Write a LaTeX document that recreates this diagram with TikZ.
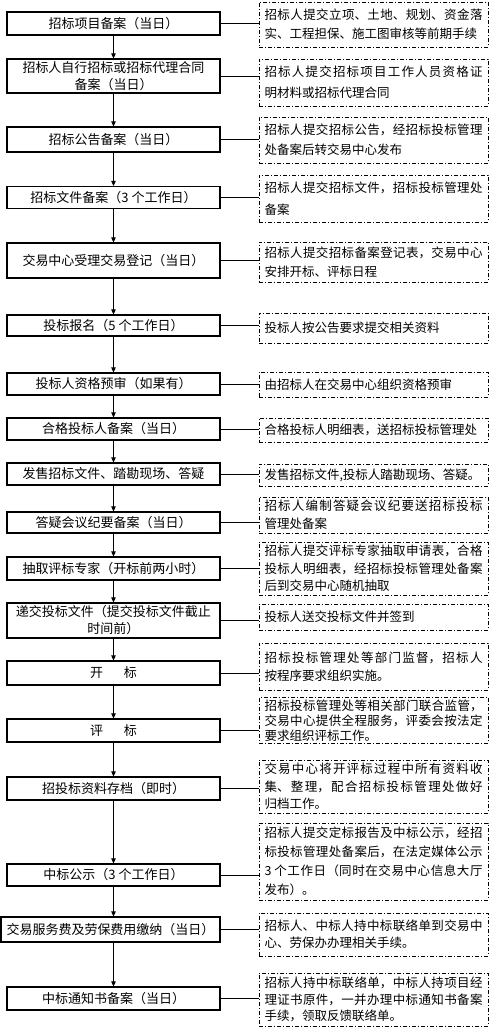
\documentclass[tikz,border=0pt]{standalone}
\usepackage{fontspec}
\usepackage{tikz}
\usetikzlibrary{arrows.meta}
\newfontfamily\cjk{Noto Sans CJK SC}
\XeTeXlinebreaklocale "zh"
\XeTeXlinebreakskip=0pt plus 8pt

\begin{document}
\begin{tikzpicture}[
    x=1pt, y=-1pt,
    stage/.style={draw, line width=1.1pt, minimum width=213pt, inner sep=2pt, align=center, font=\cjk\fontsize{13}{17}\selectfont},
    note/.style={draw, line width=0.8pt, dash pattern=on 4pt off 2pt on 1pt off 2pt, text width=218pt, inner xsep=5.5pt, inner ysep=2pt, align=justify, font=\cjk\fontsize{12.5}{#1}\selectfont},
    note/.default=17.5,
    link/.style={line width=0.8pt},
    flow/.style={line width=0.8pt, -{Triangle[length=5pt,width=4.5pt]}}
]
\useasboundingbox (0,0) rectangle (500,1028);

% process steps
\node[stage, minimum height=23pt] (l1) at (113.5,23.5) {招标项目备案（当日）};
\node[stage, minimum height=34pt] (l2) at (113.5,76) {招标人自行招标或招标代理合同\\备案（当日）};
\node[stage, minimum height=25pt] (l3) at (113.5,139.5) {招标公告备案（当日）};
\node[stage, minimum height=22pt] (l4) at (113.5,197.5) {招标文件备案（3 个工作日）};
\node[stage, minimum height=35pt] (l5) at (113.5,260.5) {交易中心受理交易登记（当日）};
\node[stage, minimum height=21pt] (l6) at (113.5,325.5) {投标报名（5 个工作日）};
\node[stage, minimum height=22pt] (l7) at (113.5,384) {投标人资格预审（如果有）};
\node[stage, minimum height=22pt] (l8) at (113.5,429) {合格投标人备案（当日）};
\node[stage, minimum height=22pt] (l9) at (113.5,474) {发售招标文件、踏勘现场、答疑};
\node[stage, minimum height=21pt] (l10) at (113.5,522.5) {答疑会议纪要备案（当日）};
\node[stage, minimum height=23pt] (l11) at (113.5,568.5) {抽取评标专家（开标前两小时）};
\node[stage, minimum height=35pt] (l12) at (113.5,620.5) {递交投标文件（提交投标文件截止\\时间前）};
\node[stage, minimum height=24pt] (l13) at (113.5,673) {开\hspace{21pt}标};
\node[stage, minimum height=23pt] (l14) at (113.5,730.5) {评\hspace{21pt}标};
\node[stage, minimum height=23pt] (l15) at (113.5,788.5) {招投标资料存档（即时）};
\node[stage, minimum height=22pt] (l16) at (113.5,875) {中标公示（3 个工作日）};
\node[stage, minimum height=25pt, minimum width=219pt] (l17) at (110.5,929.5) {交易服务费及劳保费用缴纳（当日）};
\node[stage, minimum height=23pt] (l18) at (113.5,998.5) {中标通知书备案（当日）};

% notes
\node[note=19, minimum height=45pt] (r1) at (373.5,24.5) {招标人提交立项、土地、规划、资金落\linebreak 实、工程担保、施工图审核等前期手续};
\node[note=21, minimum height=47pt] (r2) at (373.5,82.5) {招标人提交招标项目工作人员资格证\linebreak 明材料或招标代理合同};
\node[note=20, minimum height=46pt] (r3) at (373.5,140) {招标人提交招标公告，经招标投标管理\linebreak 处备案后转交易中心发布};
\node[note=22, minimum height=47pt] (r4) at (373.5,198.5) {招标人提交招标文件，招标投标管理处\linebreak 备案};
\node[note=19, minimum height=40pt] (r5) at (373.5,262) {招标人提交招标备案登记表，交易中心\linebreak 安排开标、评标日程};
\node[note, minimum height=30pt] (r6) at (373.5,328) {投标人按公告要求提交相关资料};
\node[note, minimum height=25pt] (r7) at (373.5,384.5) {由招标人在交易中心组织资格预审};
\node[note, minimum height=24pt] (r8) at (373.5,430) {合格投标人明细表，送招标投标管理处};
\node[note, minimum height=22pt] (r9) at (373.5,475) {发售招标文件,投标人踏勘现场、答疑。};
\node[note=18, minimum height=36pt] (r10) at (373.5,515) {招标人编制答疑会议纪要送招标投标\linebreak 管理处备案};
\node[note, minimum height=53pt] (r11) at (373.5,568.5) {招标人提交评标专家抽取申请表，合格\linebreak 投标人明细表，经招标投标管理处备案\linebreak 后到交易中心随机抽取};
\node[note, minimum height=26pt] (r12) at (373.5,617) {投标人送交投标文件并签到};
\node[note=18, minimum height=47pt] (r13) at (373.5,666.5) {招标投标管理处等部门监督，招标人\linebreak 按程序要求组织实施。};
\node[note=15, minimum height=45pt] (r14) at (373.5,720.5) {招标投标管理处等相关部门联合监管，\linebreak 交易中心提供全程服务，评委会按法定\linebreak 要求组织评标工作。};
\node[note, minimum height=53pt] (r15) at (373.5,786.5) {交易中心将开评标过程中所有资料收\linebreak 集、整理，配合招标投标管理处做好\linebreak 归档工作。};
\node[note=19, minimum height=77pt] (r16) at (373.5,861.5) {招标人提交定标报告及中标公示，经招\linebreak 标投标管理处备案后，在法定媒体公示\linebreak 3 个工作日（同时在交易中心信息大厅\linebreak 发布）。};
\node[note=17, minimum height=43pt] (r17) at (373.5,934.5) {招标人、中标人持中标联络单到交易中\linebreak 心、劳保办办理相关手续。};
\node[note=16.5, minimum height=53pt] (r18) at (373.5,999.5) {招标人持中标联络单，中标人持项目经\linebreak 理证书原件，一并办理中标通知书备案\linebreak 手续，领取反馈联络单。};

% flow arrows
\draw[flow] (l1.south) -- (l2.north);
\draw[flow] (l2.south) -- (l3.north);
\draw[flow] (l3.south) -- (l4.north);
\draw[flow] (l4.south) -- (l5.north);
\draw[flow] (l5.south) -- (l6.north);
\draw[flow] (l6.south) -- (l7.north);
\draw[flow] (l7.south) -- (l8.north);
\draw[flow] (l8.south) -- (l9.north);
\draw[flow] (l9.south) -- (l10.north);
\draw[flow] (l10.south) -- (l11.north);
\draw[flow] (l11.south) -- (l12.north);
\draw[flow] (l12.south) -- (l13.north);
\draw[flow] (l13.south) -- (l14.north);
\draw[flow] (l14.south) -- (l15.north);
\draw[flow] (l15.south) -- (l16.north);
\draw[flow] (l16.south) -- (l16.south |- l17.north);
\draw[flow] (l18.north |- l17.south) -- (l18.north);

% links to notes
\draw[link] (l1.east) -- (l1.east -| r1.west);
\draw[link] (l2.east) -- (l2.east -| r2.west);
\draw[link] (l3.east) -- (l3.east -| r3.west);
\draw[link] (l4.east) -- (l4.east -| r4.west);
\draw[link] (l5.east) -- (l5.east -| r5.west);
\draw[link] (l6.east) -- (l6.east -| r6.west);
\draw[link] (l7.east) -- (l7.east -| r7.west);
\draw[link] (l8.east) -- (l8.east -| r8.west);
\draw[link] (l9.east) -- (l9.east -| r9.west);
\draw[link] (l10.east) -- (l10.east -| r10.west);
\draw[link] (l11.east) -- (l11.east -| r11.west);
\draw[link] (l12.east) -- (l12.east -| r12.west);
\draw[link] (l13.east) -- (l13.east -| r13.west);
\draw[link] (l14.east) -- (l14.east -| r14.west);
\draw[link] (l15.east) -- (l15.east -| r15.west);
\draw[link] (l16.east) -- (l16.east -| r16.west);
\draw[link] (l17.east) -- (l17.east -| r17.west);
\draw[link] (l18.east) -- (l18.east -| r18.west);

\end{tikzpicture}
\end{document}
